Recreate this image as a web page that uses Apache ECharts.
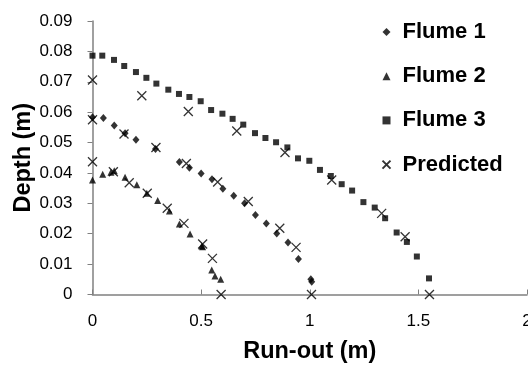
<!DOCTYPE html>
<html><head><meta charset="utf-8">
<script src="https://cdn.jsdelivr.net/npm/echarts@6/dist/echarts.min.js"></script>
<style>html,body{margin:0;padding:0;background:#fff}#c{width:528px;height:365px}</style>
</head><body><div id="c"></div>
<script>
var xTicks = [0, 0.5, 1, 1.5, 2];
var yTicks = [0, 0.01, 0.02, 0.03, 0.04, 0.05, 0.06, 0.07, 0.08, 0.09];

var flume1X = [0, 0.05, 0.10, 0.15, 0.20, 0.29, 0.40, 0.446, 0.50, 0.55, 0.60, 0.65, 0.70, 0.75, 0.80, 0.848, 0.90, 0.948, 1.005, 1.009];
var flume1Y = [0.0583, 0.0581, 0.0556, 0.0531, 0.0509, 0.0479, 0.0436, 0.0417, 0.0398, 0.0379, 0.0348, 0.0325, 0.0300, 0.0262, 0.0234, 0.0201, 0.0171, 0.0117, 0.0050, 0.0042];

var flume2X = [0, 0.047, 0.085, 0.10, 0.15, 0.204, 0.25, 0.30, 0.354, 0.40, 0.449, 0.503, 0.507, 0.549, 0.564, 0.590];
var flume2Y = [0.0377, 0.0396, 0.0402, 0.0407, 0.0386, 0.0361, 0.0333, 0.0309, 0.0275, 0.0232, 0.0199, 0.0160, 0.0157, 0.0081, 0.0061, 0.0050];

var flume3X = [0, 0.045, 0.099, 0.146, 0.200, 0.248, 0.294, 0.349, 0.398, 0.446, 0.498, 0.546, 0.598, 0.645, 0.694, 0.748, 0.796, 0.845, 0.897, 0.946, 0.998, 1.047, 1.097, 1.147, 1.195, 1.247, 1.299, 1.347, 1.400, 1.447, 1.493, 1.549];
var flume3Y = [0.0786, 0.0786, 0.0772, 0.0752, 0.0732, 0.0713, 0.0694, 0.0674, 0.0660, 0.0650, 0.0636, 0.0607, 0.0595, 0.0578, 0.0559, 0.0531, 0.0515, 0.0501, 0.0484, 0.0448, 0.0440, 0.0410, 0.0390, 0.0363, 0.0342, 0.0304, 0.0286, 0.0251, 0.0204, 0.0173, 0.0125, 0.0053];

var predX = [0, 0.227, 0.441, 0.664, 0.886, 1.101, 1.331, 1.439, 1.551,
             0, 0.145, 0.292, 0.432, 0.576, 0.717, 0.862, 0.937, 1.008,
             0, 0.096, 0.169, 0.252, 0.344, 0.421, 0.507, 0.552, 0.592];
var predY = [0.0706, 0.0654, 0.0602, 0.0538, 0.0467, 0.0377, 0.0267, 0.0190, 0,
             0.0575, 0.0528, 0.0484, 0.0431, 0.0370, 0.0306, 0.0218, 0.0155, 0,
             0.0437, 0.0404, 0.0368, 0.0333, 0.0284, 0.0234, 0.0166, 0.0119, 0];

var seriesNames = ['Flume 1', 'Flume 2', 'Flume 3', 'Predicted'];

function pairs(xs, ys) { return xs.map(function (x, i) { return [x, ys[i]]; }); }

var FONT = '"Liberation Sans", Arial, sans-serif';
var crossPath = 'path://M0,0L10,10M10,0L0,10';

var chart = echarts.init(document.getElementById('c'), null, {renderer: 'canvas'});
chart.setOption({
  animation: false,
  backgroundColor: '#fff',
  grid: {left: 92.5, top: 21, right: 1, bottom: 70.5, containLabel: false, outerBoundsMode: 'none'},
  legend: {
    orient: 'vertical', left: 375, top: 16,
    itemWidth: 8, itemHeight: 8, itemGap: 22.2,
    textStyle: {fontFamily: FONT, fontWeight: 'bold', fontSize: 22, color: '#000', lineHeight: 21, padding: [0, 0, 0, 7]},
    data: [
      {name: seriesNames[0], icon: 'diamond'},
      {name: seriesNames[1], icon: 'triangle'},
      {name: seriesNames[2], icon: 'rect'},
      {name: seriesNames[3], icon: crossPath}
    ]
  },
  xAxis: {
    type: 'value', min: xTicks[0], max: xTicks[xTicks.length - 1], interval: 0.5,
    name: 'Run-out (m)', nameLocation: 'middle', nameGap: 45, nameMoveOverlap: false,
    nameTextStyle: {fontFamily: FONT, fontWeight: 'bold', fontSize: 23.5, color: '#000'},
    axisLine: {onZero: false, lineStyle: {color: '#808080', width: 1.5}},
    axisTick: {inside: true, length: 5, lineStyle: {color: '#808080', width: 1}},
    axisLabel: {margin: 18, fontFamily: FONT, fontSize: 17, color: '#000', showMaxLabel: true},
    splitLine: {show: false}
  },
  yAxis: {
    type: 'value', min: yTicks[0], max: yTicks[yTicks.length - 1], interval: 0.01,
    name: 'Depth (m)', nameLocation: 'middle', nameGap: 57, nameMoveOverlap: false,
    nameTextStyle: {fontFamily: FONT, fontWeight: 'bold', fontSize: 23.5, color: '#000'},
    axisLine: {show: true, lineStyle: {color: '#808080', width: 1.5}},
    axisTick: {show: true, inside: false, length: 5, lineStyle: {color: '#808080', width: 1}},
    axisLabel: {margin: 20, fontFamily: FONT, fontSize: 17, color: '#000',
      formatter: function (v) { var i = Math.round(v * 100); return String(yTicks[i]); }},
    splitLine: {show: false}
  },
  series: [
    {name: seriesNames[0], type: 'scatter', symbol: 'diamond', symbolSize: [7, 8],
     itemStyle: {color: '#000'}, data: pairs(flume1X, flume1Y)},
    {name: seriesNames[1], type: 'scatter', symbol: 'triangle', symbolSize: [7, 7],
     itemStyle: {color: '#000'}, data: pairs(flume2X, flume2Y)},
    {name: seriesNames[2], type: 'scatter', symbol: 'rect', symbolSize: 6,
     itemStyle: {color: '#000'}, data: pairs(flume3X, flume3Y)},
    {name: seriesNames[3], type: 'scatter', symbol: crossPath, symbolSize: 9, z: 5,
     itemStyle: {color: 'none', borderColor: '#000', borderWidth: 1.3}, data: pairs(predX, predY)}
  ]
});
</script></body></html>
